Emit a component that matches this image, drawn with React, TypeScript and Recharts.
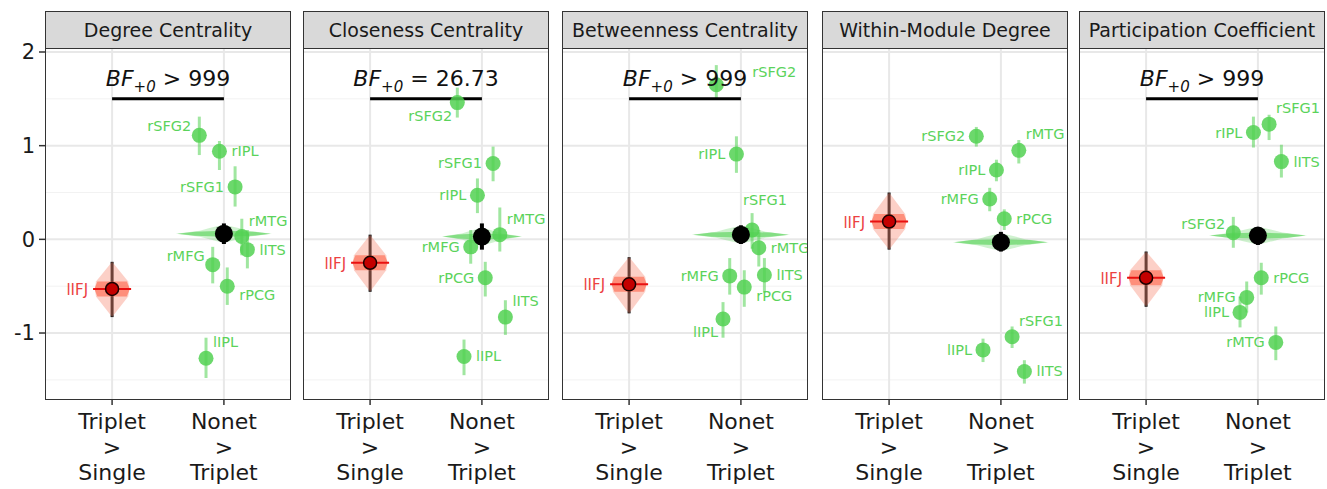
import {
  ComposedChart,
  Scatter,
  XAxis,
  YAxis,
  CartesianGrid,
  ErrorBar,
  ReferenceLine,
} from "recharts";

const facets = [
  "Degree Centrality",
  "Closeness Centrality",
  "Betweenness Centrality",
  "Within-Module Degree",
  "Participation Coefficient",
];
const bfRelation = ["> 999", "= 26.73", "> 999", "", "> 999"];
const contrastFirst = ["Triplet", "Nonet"];
const contrastSecond = ["Single", "Triplet"];
const contrastPos = [1, 2];
const yTicks = [-1, 0, 1, 2];
const yMinorTicks = [-1.5, -0.5, 0.5, 1.5];

// Triplet > Single (lIFJ)
const tripletRegion = "lIFJ";
const tripletMean = [-0.53, -0.25, -0.48, 0.19, -0.41];
const tripletLow = [-0.83, -0.56, -0.79, -0.11, -0.72];
const tripletHigh = [-0.24, 0.05, -0.19, 0.5, -0.13];

// Nonet > Triplet, group estimate
const nonetMean = [0.06, 0.03, 0.05, -0.03, 0.04];
const nonetLow = [-0.05, -0.11, -0.05, -0.13, -0.06];
const nonetHigh = [0.17, 0.17, 0.15, 0.08, 0.13];
const nonetSpread = [0.43, 0.36, 0.44, 0.43, 0.44];

// Nonet > Triplet, regions: [estimate, low, high]
const regions = ["rSFG2", "rIPL", "rSFG1", "rMTG", "lITS", "rMFG", "rPCG", "lIPL"];
const regionDodge = [-0.22, -0.04, 0.1, 0.16, 0.21, -0.1, 0.03, -0.16];

const degree = [
  [1.11, 0.9, 1.31], [0.94, 0.74, 1.05], [0.56, 0.35, 0.78], [0.03, -0.17, 0.22],
  [-0.11, -0.31, 0.1], [-0.27, -0.47, -0.08], [-0.5, -0.7, -0.3], [-1.27, -1.48, -1.05],
];
const closeness = [
  [1.46, 1.3, 1.62], [0.47, 0.28, 0.65], [0.81, 0.62, 0.99], [0.05, -0.13, 0.34],
  [-0.83, -1.02, -0.65], [-0.08, -0.26, 0.1], [-0.41, -0.61, -0.24], [-1.25, -1.45, -1.07],
];
const betweenness = [
  [1.65, 1.49, 1.86], [0.91, 0.71, 1.1], [0.1, -0.1, 0.28], [-0.09, -0.29, 0.1],
  [-0.38, -0.57, -0.2], [-0.39, -0.59, -0.2], [-0.51, -0.72, -0.33], [-0.85, -1.05, -0.67],
];
const withinModule = [
  [1.1, 0.99, 1.2], [0.74, 0.62, 0.85], [-1.04, -1.16, -0.93], [0.95, 0.81, 1.06],
  [-1.41, -1.54, -1.29], [0.43, 0.3, 0.55], [0.22, 0.1, 0.32], [-1.18, -1.31, -1.06],
];
const participation = [
  [0.07, -0.09, 0.24], [1.14, 0.98, 1.31], [1.23, 1.06, 1.33], [-1.1, -1.29, -0.93],
  [0.83, 0.66, 1.01], [-0.62, -0.78, -0.45], [-0.41, -0.59, -0.25], [-0.78, -0.94, -0.61],
];
const facetValues = [degree, closeness, betweenness, withinModule, participation];

// where each region label sits next to its point
const labelSides = [
  ["ul", "r", "l", "ur", "r", "ul", "dr", "ur"],
  ["dl", "l", "l", "ur", "ur", "l", "l", "r"],
  ["fr", "l", "u", "r", "r", "l", "dr", "dl"],
  ["l", "l", "ur", "ur", "r", "l", "r", "l"],
  ["ul", "l", "ur", "l", "r", "l", "r", "l"],
];
const sideOffset: Record<string, [number, number, string]> = {
  l: [-11, 5, "end"],
  r: [12, 5, "start"],
  ul: [-8, -4, "end"],
  ur: [7, -11, "start"],
  dl: [-5, 18, "end"],
  dr: [12, 14, "start"],
  u: [-9, -25, "start"],
  fr: [36, -8, "start"],
};

// layout
const FONT = "DejaVu Sans";
const PANEL_LEFT = [45, 303, 562, 822, 1079];
const PANEL_W = 246;
const STRIP_TOP = 11;
const PLOT_TOP = 49;
const PLOT_H = 351;
const TOP_PAD = 20;
const XAXIS_H = 89;
const Y_AXIS_W = 45;
const XMIN = 0.4;
const XMAX = 2.6;
const YMIN = -1.715;
const YMAX = 2.032;
const KX = PANEL_W / (XMAX - XMIN);
const KY = PLOT_H / (YMAX - YMIN);

const GREEN = "#52d152";
const GREEN_TEXT = "#5bd35b";
const RED_TEXT = "#ec4141";

const poly = (pts: number[][]) => pts.map((p) => `${p[0].toFixed(1)},${p[1].toFixed(1)}`).join(" ");

const GreenViolin = (p: any) => {
  const { cx, cy, payload } = p;
  const w = payload.spread * KX;
  const outer = [[-1, 0], [-0.75, 0.016], [-0.5, 0.032], [-0.3, 0.06], [-0.12, 0.082], [0, 0.09], [0.12, 0.082], [0.3, 0.06], [0.5, 0.032], [0.75, 0.016], [1, 0]];
  const inner = [[-0.97, 0], [-0.6, 0.022], [0, 0.032], [0.6, 0.022], [0.97, 0]];
  const ring = (s: number[][]) => [
    ...s.map(([f, h]) => [cx + f * w, cy - h * KY]),
    ...s.slice().reverse().map(([f, h]) => [cx + f * w, cy + h * KY]),
  ];
  return (
    <g>
      <polygon points={poly(ring(outer))} fill={GREEN} fillOpacity={0.28} />
      <polygon points={poly(ring(inner))} fill={GREEN} fillOpacity={0.6} />
    </g>
  );
};

const RedViolin = (p: any) => {
  const { cx, cy, payload } = p;
  const top = cy - (payload.hi - payload.y) * KY;
  const bot = cy + (payload.y - payload.lo) * KY;
  const band = 0.08 * KY;
  const w = 0.155 * KX;
  const outer = [[cx, top], [cx + w * 0.93, cy - band], [cx + w, cy], [cx + w * 0.93, cy + band], [cx, bot], [cx - w * 0.93, cy + band], [cx - w, cy], [cx - w * 0.93, cy - band]];
  const inner = [[cx - w * 0.85, cy - band], [cx + w * 0.85, cy - band], [cx + w * 1.02, cy], [cx + w * 0.85, cy + band], [cx - w * 0.85, cy + band], [cx - w * 1.02, cy]];
  return (
    <g>
      <polygon points={poly(outer)} fill="#f88a72" fillOpacity={0.4} />
      <polygon points={poly(inner)} fill="#ff5a3c" fillOpacity={0.55} />
      <line x1={cx - 0.17 * KX} x2={cx + 0.17 * KX} y1={cy} y2={cy} stroke="#e81010" strokeWidth={2} />
      <text x={cx - 24} y={cy + 6} textAnchor="end" fontFamily={FONT} fontSize={15} fill={RED_TEXT}>
        {payload.name}
      </text>
    </g>
  );
};

const RedDot = (p: any) => (
  <circle cx={p.cx} cy={p.cy} r={6.5} fill="#c40000" stroke="#1a0000" strokeWidth={1.5} />
);

const BlackDot = (p: any) => <circle cx={p.cx} cy={p.cy} r={9} fill="#000" />;

const RegionDot = (p: any) => {
  const { cx, cy, payload } = p;
  const [dx, dy, anchor] = sideOffset[payload.side];
  return (
    <g>
      <circle cx={cx} cy={cy} r={7.5} fill={GREEN} fillOpacity={0.85} />
      <text x={cx + dx} y={cy + dy} textAnchor={anchor} fontFamily={FONT} fontSize={14.5} fill={GREEN_TEXT}>
        {payload.name}
      </text>
    </g>
  );
};

const BFText = (p: any) => (
  <text x={p.cx} y={p.cy} textAnchor="middle" fontFamily={FONT} fontSize={22} fill="#111">
    <tspan fontStyle="italic">BF</tspan>
    <tspan fontStyle="italic" fontSize={15} dy={6}>+0</tspan>
    <tspan dy={-6}>{" " + p.payload.text}</tspan>
  </text>
);

const ContrastTick = (p: any) => {
  const { x, y, payload } = p;
  const k = contrastPos.indexOf(payload.value);
  return (
    <text x={x} y={y} textAnchor="middle" fontFamily={FONT} fontSize={22} fill="#1a1a1a">
      <tspan x={x} dy={22}>{contrastFirst[k]}</tspan>
      <tspan x={x} dy={26}>&gt;</tspan>
      <tspan x={x} dy={25}>{contrastSecond[k]}</tspan>
    </text>
  );
};

function Facet({ i }: { i: number }) {
  const first = i === 0;
  const axisW = first ? Y_AXIS_W : 0;
  const regionData = regions.map((name, k) => {
    const [v, lo, hi] = facetValues[i][k];
    return { x: 2 + regionDodge[k], y: v, err: [v - lo, hi - v], name, side: labelSides[i][k] };
  });
  const nonetData = [
    { x: 2, y: nonetMean[i], err: [nonetMean[i] - nonetLow[i], nonetHigh[i] - nonetMean[i]], spread: nonetSpread[i] },
  ];
  const tripletData = [
    {
      x: 1,
      y: tripletMean[i],
      lo: tripletLow[i],
      hi: tripletHigh[i],
      err: [tripletMean[i] - tripletLow[i], tripletHigh[i] - tripletMean[i]],
      name: tripletRegion,
    },
  ];
  const bf = bfRelation[i];
  return (
    <>
      <div style={{ position: "absolute", left: PANEL_LEFT[i] - axisW, top: PLOT_TOP - TOP_PAD }}>
        <ComposedChart
          width={PANEL_W + axisW}
          height={TOP_PAD + PLOT_H + XAXIS_H}
          margin={{ top: TOP_PAD, right: 0, bottom: 0, left: 0 }}
        >
          <CartesianGrid horizontalValues={yMinorTicks} vertical={false} stroke="#f2f2f2" strokeWidth={1} />
          <CartesianGrid horizontalValues={yTicks} verticalValues={contrastPos} stroke="#e8e8e8" strokeWidth={2} />
          <XAxis
            type="number"
            dataKey="x"
            domain={[XMIN, XMAX]}
            ticks={contrastPos}
            interval={0}
            axisLine={false}
            tickLine={{ stroke: "#333", strokeWidth: 1.5 }}
            tickSize={5}
            height={XAXIS_H}
            tick={<ContrastTick />}
          />
          <YAxis
            type="number"
            dataKey="y"
            domain={[YMIN, YMAX]}
            ticks={yTicks}
            interval={0}
            hide={!first}
            width={axisW}
            axisLine={false}
            tickLine={{ stroke: "#333", strokeWidth: 1.5 }}
            tickSize={6}
            tickMargin={4}
            tick={{ fontSize: 21, fill: "#1a1a1a", fontFamily: FONT }}
          />
          <Scatter data={nonetData} shape={GreenViolin} isAnimationActive={false} />
          <Scatter data={regionData} shape={RegionDot} isAnimationActive={false}>
            <ErrorBar dataKey="err" direction="y" width={0} stroke={GREEN} strokeOpacity={0.55} strokeWidth={3} isAnimationActive={false} />
          </Scatter>
          <Scatter data={nonetData} shape={BlackDot} isAnimationActive={false}>
            <ErrorBar dataKey="err" direction="y" width={0} stroke="#000" strokeWidth={4} isAnimationActive={false} />
          </Scatter>
          <Scatter data={tripletData} shape={RedViolin} isAnimationActive={false} />
          <Scatter data={tripletData} shape={RedDot} isAnimationActive={false}>
            <ErrorBar dataKey="err" direction="y" width={0} stroke="#111" strokeWidth={3} isAnimationActive={false} />
          </Scatter>
          {bf && (
            <ReferenceLine
              segment={[{ x: 1, y: 1.5 }, { x: 2, y: 1.5 }]}
              stroke="#000"
              strokeWidth={3}
            />
          )}
          {bf && (
            <Scatter data={[{ x: 1.5, y: 1.64, text: bf }]} shape={BFText} isAnimationActive={false} />
          )}
        </ComposedChart>
      </div>
      <div
        style={{
          position: "absolute",
          left: PANEL_LEFT[i],
          top: STRIP_TOP,
          width: PANEL_W,
          height: PLOT_TOP - STRIP_TOP + PLOT_H,
          border: "1.5px solid #333",
          boxSizing: "border-box",
          pointerEvents: "none",
        }}
      >
        <div
          style={{
            height: PLOT_TOP - STRIP_TOP - 1.5,
            background: "#d9d9d9",
            borderBottom: "1.5px solid #333",
            boxSizing: "border-box",
            display: "flex",
            alignItems: "center",
            justifyContent: "center",
            fontSize: 19,
            color: "#1a1a1a",
            whiteSpace: "nowrap",
          }}
        >
          {facets[i]}
        </div>
      </div>
    </>
  );
}

export default function App() {
  return (
    <div
      style={{
        position: "absolute",
        left: 0,
        top: 0,
        width: 1327,
        height: 489,
        background: "#fff",
        fontFamily: FONT,
        overflow: "hidden",
      }}
    >
      {facets.map((_, i) => (
        <Facet key={i} i={i} />
      ))}
    </div>
  );
}
